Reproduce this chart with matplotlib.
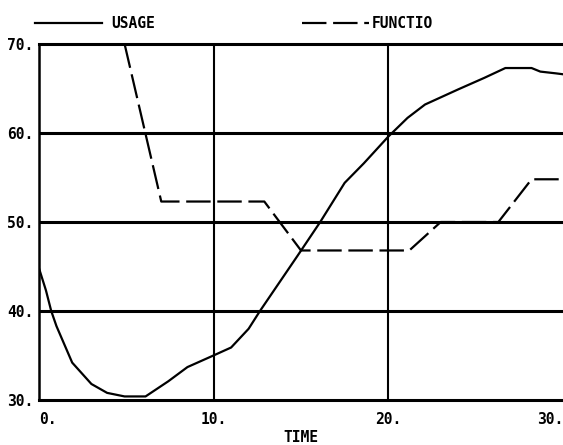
import matplotlib
matplotlib.use("Agg")
import matplotlib.pyplot as plt

# values
usage_t = [0, 0.4, 0.7, 1.0, 1.9, 3.0, 3.9, 4.9, 6.1, 7.4, 8.5, 10.1, 11.0, 12.0, 12.65,
           14.8, 16.1, 17.5, 18.6, 20.0, 21.1, 22.1, 24.0, 25.5, 26.7, 28.2, 28.7, 29.6, 30]
usage_v = [44.8, 42.3, 40.0, 38.3, 34.2, 31.8, 30.8, 30.4, 30.4, 32.1, 33.7, 35.1, 35.9, 38.0, 40.0,
           46.2, 50.0, 54.4, 56.6, 59.6, 61.7, 63.2, 64.9, 66.2, 67.3, 67.3, 66.9, 66.7, 66.6]

func_t = [4.9, 7.0, 12.9, 15.0, 21.2, 23.0, 26.3, 28.2, 30]
func_v = [70.0, 52.3, 52.3, 46.8, 46.8, 50.0, 50.0, 54.8, 54.8]

x_ticks = [0, 10, 20, 30]
x_labels = ["0.", "10.", "20.", "30."]
y_ticks = [30, 40, 50, 60, 70]
y_labels = ["30.", "40.", "50.", "60.", "70."]

FONT = dict(family="DejaVu Sans Mono", weight="bold", size=10.5)

fig = plt.figure(figsize=(5.63, 4.45), dpi=100)
fig.patch.set_facecolor("white")
ax = fig.add_axes([39 / 563, 1 - 400 / 445, 524 / 563, 356 / 445])

u_line, = ax.plot(usage_t, usage_v, color="black", lw=1.6, label="USAGE")
f_line, = ax.plot(func_t, func_v, color="black", lw=1.6, linestyle=(0, (11, 3)),
                  label="FUNCTIO")

for y in [40, 50, 60]:
    ax.axhline(y, color="black", lw=2.2, zorder=1)
for x in [10, 20]:
    ax.axvline(x, color="black", lw=1.5, zorder=1)

ax.set_xlim(0, 30)
ax.set_ylim(30, 70)
ax.spines["right"].set_visible(False)
ax.spines["left"].set_linewidth(1.8)
ax.spines["top"].set_linewidth(2.2)
ax.spines["bottom"].set_linewidth(2.2)

ax.set_xticks(x_ticks)
ax.set_xticklabels(x_labels, fontdict=FONT)
ax.set_yticks(y_ticks)
ax.set_yticklabels(y_labels, fontdict=FONT)
ax.tick_params(axis="both", length=0)
ax.tick_params(axis="x", pad=9)
ax.tick_params(axis="y", pad=4)
xl = ax.get_xticklabels()
xl[0].set_ha("left")
xl[-1].set_ha("right")
ax.set_xlabel("TIME", fontdict=FONT, labelpad=2)

legend_prop = dict(family=FONT["family"], weight="bold", size=10.5)
fig.legend(handles=[u_line], loc="center left", bbox_to_anchor=(35 / 563, 1 - 24 / 445),
           frameon=False, prop=legend_prop,
           handlelength=4.6, handletextpad=0.6, borderpad=0, borderaxespad=0)
fig.legend(handles=[f_line], loc="center left", bbox_to_anchor=(302 / 563, 1 - 24 / 445),
           frameon=False, prop=legend_prop,
           handlelength=4.6, handletextpad=0.2, borderpad=0, borderaxespad=0)

fig.savefig("out.png", dpi=100, facecolor="white")
